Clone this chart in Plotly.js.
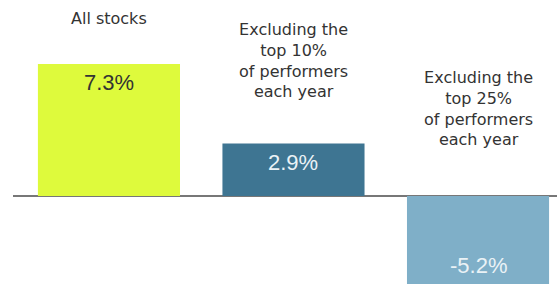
<!DOCTYPE html>
<html>
<head>
<meta charset="utf-8">
<script src="https://cdn.plot.ly/plotly-3.0.1.min.js"></script>
<style>html,body{margin:0;padding:0;background:#fff;}#chart{width:557px;height:284px;}</style>
</head>
<body>
<div id="chart"></div>
<script>
var categories = ["All stocks", "Excluding the<br>top 10%<br>of performers<br>each year", "Excluding the<br>top 25%<br>of performers<br>each year"];
var returns = [7.3, 2.9, -5.2];
var valueLabels = ["7.3%", "2.9%", "-5.2%"];

var barColors = ["#DEFA3C", "#3E7592", "#7FAFC8"];
var valueColors = ["#333333", "#EAF2F6", "#EAF2F6"];
var yRange = [-4.87, 10.84];
var xIdx = categories.map(function (c, i) { return i; });

var trace = {
  type: "bar",
  x: xIdx,
  y: returns,
  marker: { color: barColors, line: { width: 0 } },
  hoverinfo: "none"
};

var annotations = [];
var catShift = [34, 41, 45];
returns.forEach(function (v, i) {
  annotations.push({
    x: i, y: Math.max(v, 0), xref: "x", yref: "y",
    text: categories[i], showarrow: false,
    yanchor: "bottom", yshift: catShift[i],
    font: { family: "DejaVu Sans", size: 16, color: "#333333" }
  });
  var inRange = v >= yRange[0];
  annotations.push({
    x: i, y: inRange ? v : yRange[0], xref: "x", yref: "y",
    text: valueLabels[i], showarrow: false,
    yanchor: v >= 0 ? "top" : "bottom",
    yshift: v >= 0 ? -4 : 4,
    font: { family: "Liberation Sans, Arial", size: 22, color: valueColors[i] }
  });
});

var layout = {
  width: 557, height: 284,
  margin: { l: 13, r: 0, t: 0, b: 0, pad: 0 },
  paper_bgcolor: "#ffffff", plot_bgcolor: "#ffffff",
  showlegend: false,
  bargap: 0.23,
  xaxis: { range: [-0.52, 2.428], showgrid: false, zeroline: false, showticklabels: false, ticks: "", showline: false, fixedrange: true },
  yaxis: { range: yRange, showgrid: false, zeroline: true, zerolinecolor: "#777777", zerolinewidth: 2, showticklabels: false, ticks: "", showline: false, fixedrange: true },
  annotations: annotations
};

Plotly.newPlot("chart", [trace], layout, { staticPlot: true, displayModeBar: false });
</script>
</body>
</html>
